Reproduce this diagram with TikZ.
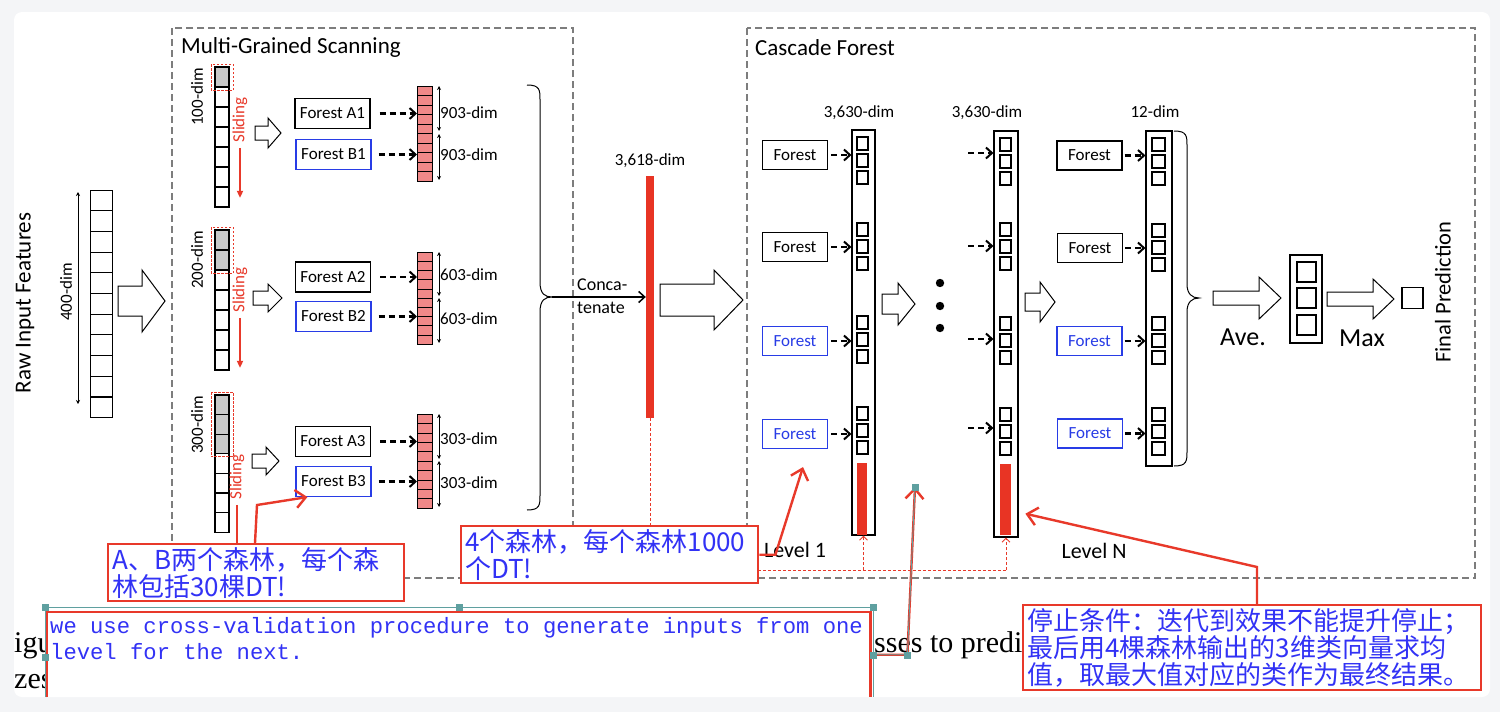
\documentclass[tikz,border=0pt]{standalone}
\usepackage{fontspec}
\setmainfont{Carlito}
\newfontfamily\cjkfont{Noto Sans CJK SC}
\newfontfamily\annmono{Liberation Mono}
\newfontfamily\paperserif{Liberation Serif}
\usetikzlibrary{arrows.meta}
\definecolor{pagebg}{RGB}{244,245,247}
\definecolor{boxgray}{RGB}{125,125,125}
\definecolor{annred}{RGB}{232,57,42}
\definecolor{annblue}{RGB}{50,50,245}
\definecolor{barred}{RGB}{232,52,36}
\definecolor{cellred}{RGB}{240,136,136}
\definecolor{cellgray}{RGB}{200,200,200}
\definecolor{fbblue}{RGB}{40,60,230}
\definecolor{selteal}{RGB}{95,160,160}
\newcommand{\fatArrow}[6]{%
  \draw[line width=1pt, fill=white, line join=miter] (#1,#4-#5) -- (#2,#4-#5) -- (#2,#4-#6) -- (#3,#4) -- (#2,#4+#6) -- (#2,#4+#5) -- (#1,#4+#5) -- cycle;}

\begin{document}
\begin{tikzpicture}[x=1pt,y=-1pt,
  lbl/.style={inner sep=0pt, font=\fontsize{17}{20}\selectfont},
  ttl/.style={inner sep=0pt, font=\fontsize{23}{26}\selectfont},
  fbox/.style={draw, line width=1.1pt, minimum width=75pt, minimum height=30pt, inner sep=0pt, font=\fontsize{17}{20}\selectfont},
  fboxb/.style={fbox, draw=fbblue},
  cfbox/.style={fbox, minimum width=65pt, minimum height=29pt},
  cfboxb/.style={cfbox, draw=fbblue, text=fbblue},
  colbox/.style={draw, line width=1.1pt, inner sep=0pt},
  dasharr/.style={line width=2.1pt, dash pattern=on 6pt off 4pt, -{Straight Barb[length=6pt,width=11pt,line width=2pt]}},
  dimarr/.style={line width=0.8pt, {Stealth[length=4pt,width=4pt]}-{Stealth[length=4pt,width=4pt]}},
  slide/.style={annred, line width=1.6pt, -{Triangle[length=7pt,width=6pt]}},
  feed/.style={annred, line width=0.9pt, dash pattern=on 3pt off 2pt},
  calarr/.style={annred, line width=2.4pt, -{Straight Barb[length=10pt,width=18pt]}},
  annbox/.style={draw=annred, line width=2.4pt, fill=white, text=annblue, inner sep=3pt, anchor=north west, align=left, font=\cjkfont\fontsize{26}{27}\selectfont},
]
\useasboundingbox (0,0) rectangle (1500,712);
\fill[pagebg] (0,0) rectangle (1500,712);
\fill[white, rounded corners=8pt] (14,12) rectangle (1490,697);

% dashed frames
\draw[boxgray, line width=1.8pt, dash pattern=on 7pt off 4pt] (172,28) rectangle (573,578);
\draw[boxgray, line width=1.8pt, dash pattern=on 7pt off 4pt] (747,28) rectangle (1475,578);
\node[ttl, anchor=base west] (mgstitle) at (181,53) {Multi-Grained Scanning};
\node[ttl, anchor=base west] (cftitle) at (755,55) {Cascade Forest};

% raw input
\node[ttl, rotate=90] (rawtitle) at (25,303) {Raw Input Features};
\node[colbox, minimum width=22pt, minimum height=227pt, anchor=north west] (rawcol) at (90,190) {};
\foreach \i in {1,...,10} \draw[line width=1.1pt] (90,190+\i*20.7) -- ++(22,0);
\draw[dimarr] (rawcol.north west) ++(-12,2) -- ++(0,212);
\node[lbl, rotate=90] (rawdim) at (66,292) {400-dim};
\fatArrow{118}{142}{165}{301}{15}{31}

% scanning windows
\foreach \cy/\ch/\cg in {67/20/1, 230/20/2, 395/19.6/3} {
  \foreach \i in {1,...,\cg} \fill[cellgray] (215,\cy+\i*\ch-\ch) rectangle ++(14,\ch);
  \foreach \i in {0,...,6} \draw[line width=1.1pt] (215,\cy+\i*\ch) rectangle ++(14,\ch);
  \draw[annred, line width=1pt, dash pattern=on 2.5pt off 1.5pt] (211,\cy-3) rectangle (233,\cy+\cg*\ch+3);
}
\node[lbl, rotate=90] (d100) at (197,97) {100-dim};
\node[lbl, rotate=90] (d200) at (197,260) {200-dim};
\node[lbl, rotate=90] (d300) at (197,425) {300-dim};
\node[lbl, rotate=90, text=annred] (sl1) at (240,120) {Sliding};
\node[lbl, rotate=90, text=annred] (sl2) at (240,290) {Sliding};
\node[lbl, rotate=90, text=annred] (sl3) at (237,477) {Sliding};
\draw[slide, shorten <=5pt] (sl1.west) -- ++(0,55);
\draw[slide, shorten <=5pt] (sl2.west) -- ++(0,55);
\draw[slide, shorten <=5pt] (sl3.west) -- ++(0,55);
\fatArrow{255}{268}{281}{133}{7}{15}
\fatArrow{253}{268}{282}{298}{7}{14}
\fatArrow{252}{266}{279}{461}{7}{14}

% forests A/B
\node[fbox] (fa1) at (332.5,113.5) {Forest A1};
\node[fboxb] (fb1) at (333.5,154.5) {Forest B1};
\node[fbox] (fa2) at (333,277) {Forest A2};
\node[fboxb] (fb2) at (333.5,316.5) {Forest B2};
\node[fbox] (fa3) at (333,441.5) {Forest A3};
\node[fboxb] (fb3) at (333.5,481.5) {Forest B3};

% transformed features
\foreach \n/\ty/\by in {rc1/86/181, rc2/252/344, rc3/414/508} {
  \node[colbox, fill=cellred, minimum width=15pt, minimum height=\by-\ty, anchor=north west] (\n) at (417,\ty) {};
  \foreach \i in {1,...,9} \draw[line width=0.6pt] (417,{\ty+\i*(\by-\ty)/10}) -- (432,{\ty+\i*(\by-\ty)/10});
}
\draw[dasharr, shorten <=9pt] (fa1.east) -- (fa1.east -| rc1.west);
\draw[dasharr, shorten <=7pt] (fb1.east) -- (fb1.east -| rc1.west);
\draw[dasharr, shorten <=9pt] (fa2.east) -- (fa2.east -| rc2.west);
\draw[dasharr, shorten <=7pt] (fb2.east) -- (fb2.east -| rc2.west);
\draw[dasharr, shorten <=9pt] (fa3.east) -- (fa3.east -| rc3.west);
\draw[dasharr, shorten <=7pt] (fb3.east) -- (fb3.east -| rc3.west);
\draw[dimarr] (rc1.north east) ++(6,0) -- ++(0,45);
\draw[dimarr] (rc1.north east) ++(6,48) -- ++(0,46);
\draw[dimarr] (rc2.north east) ++(6,0) -- ++(0,44);
\draw[dimarr] (rc2.north east) ++(6,46) -- ++(0,45);
\draw[dimarr] (rc3.north east) ++(6,0) -- ++(0,45);
\draw[dimarr] (rc3.north east) ++(6,47) -- ++(0,46);
\node[lbl, anchor=west] (l903a) at (440,113) {903-dim};
\node[lbl, anchor=west] (l903b) at (440,155) {903-dim};
\node[lbl, anchor=west] (l603a) at (440,275) {603-dim};
\node[lbl, anchor=west] (l603b) at (440,319) {603-dim};
\node[lbl, anchor=west] (l303a) at (440,439) {303-dim};
\node[lbl, anchor=west] (l303b) at (440,483) {303-dim};

% concatenation
\draw[line width=1pt] (527,85) .. controls (540,85) and (540,90) .. (540,100) -- (540,282) .. controls (540,294) and (545,297) .. (552,297) .. controls (545,297) and (540,300) .. (540,312) -- (540,495) .. controls (540,505) and (540,510) .. (527,510);
\coordinate (bracetip) at (552,297);
\node[fill=barred, minimum width=8pt, minimum height=242pt, inner sep=0pt] (cbar) at (650,297) {};
\node[lbl] (d3618) at (650,161) {3,618-dim};
\draw[line width=1.5pt, -{Straight Barb[length=6pt,width=11pt]}] (bracetip) -- (bracetip -| cbar.west);
\node[lbl, font=\fontsize{18}{20}\selectfont, anchor=west] (conca) at (577,285) {Conca-};
\node[lbl, font=\fontsize{18}{20}\selectfont, anchor=west] (tenate) at (577,308) {tenate};
\fatArrow{660}{714}{743}{300}{16}{30}

% cascade forest: level 1
\node[cfbox] (l1f1) at (795,155) {Forest};
\node[cfbox] (l1f2) at (795,247) {Forest};
\node[cfboxb] (l1f3) at (795,341) {Forest};
\node[cfboxb] (l1f4) at (795,434) {Forest};
\node[colbox, minimum width=23pt, minimum height=405pt] (lv1) at (863.5,332.5) {};
\foreach \sy in {137,223,316,407} \foreach \j in {0,1,2} \draw[line width=1.1pt] (857,\sy+\j*17) rectangle ++(11,13);
\node[fill=barred, minimum width=10pt, minimum height=72pt, inner sep=0pt, anchor=north west] (lv1bar) at (857,463) {};
\foreach \f in {l1f1,l1f2,l1f3,l1f4} \draw[dasharr, shorten <=3pt] (\f.east) -- (\f.east -| lv1.west);
\node[lbl] (d3630a) at (859,113) {3,630-dim};
\node[lbl, font=\fontsize{22}{24}\selectfont] (lev1) at (795,550) {Level 1};
\fatArrow{882}{898}{915}{304}{10}{21}
\foreach \dy in {283,306,328} \fill (940,\dy) circle (4.2);

% level N
\node[colbox, minimum width=24pt, minimum height=406pt] (lvn) at (1006,334) {};
\foreach \sy in {138,223,317,408} \foreach \j in {0,1,2} \draw[line width=1.1pt] (1000,\sy+\j*17) rectangle ++(11,13);
\node[fill=barred, minimum width=11pt, minimum height=71pt, inner sep=0pt, anchor=north west] (lvnbar) at (1000,464) {};
\foreach \iy [count=\k] in {153,246,339,428} {
  \coordinate (lnin\k) at (968,\iy);
  \draw[dasharr] (lnin\k) -- (lnin\k -| lvn.west);
}
\node[lbl] (d3630b) at (987,113) {3,630-dim};
\node[lbl, font=\fontsize{22}{24}\selectfont] (levn) at (1094,551) {Level N};
\fatArrow{1025}{1040}{1055}{302}{9}{20}

% final level
\node[cfbox] (ff1) at (1089.5,155.5) {Forest};
\node[cfbox] (ff2) at (1090,248) {Forest};
\node[cfboxb] (ff3) at (1089.5,341) {Forest};
\node[cfboxb] (ff4) at (1090,433.5) {Forest};
\node[colbox, minimum width=26pt, minimum height=335pt] (lvf) at (1159,298.5) {};
\foreach \sy in {138,224,317,408} \foreach \j in {0,1,2} \draw[line width=1.1pt] (1152,\sy+\j*17) rectangle ++(13,13);
\foreach \f in {ff1,ff2,ff3,ff4} \draw[dasharr, shorten <=2pt] (\f.east) -- (\f.east -| lvf.west);
\node[lbl] (d12) at (1155,112) {12-dim};
\draw[line width=1pt] (1174,131) .. controls (1187,131) and (1187,136) .. (1187,146) -- (1187,284) .. controls (1187,294) and (1192,298) .. (1199,298) .. controls (1192,298) and (1187,302) .. (1187,312) -- (1187,451) .. controls (1187,461) and (1187,466) .. (1174,466);
\fatArrow{1213}{1259}{1281}{298}{7}{21}
\node[inner sep=0pt, font=\fontsize{26}{28}\selectfont] (ave) at (1243,337) {Ave.};
\node[colbox, minimum width=32pt, minimum height=88pt] (res) at (1306,299) {};
\foreach \sy in {262,288,315} \draw[line width=1.1pt] (1297,\sy) rectangle ++(19,20);
\fatArrow{1327}{1373}{1394}{299}{7}{20}
\node[inner sep=0pt, font=\fontsize{26}{28}\selectfont] (maxlbl) at (1362,338) {Max};
\node[colbox, minimum size=21pt] (fin) at (1412.5,298) {};
\node[inner sep=0pt, rotate=90, font=\fontsize{22.5}{25}\selectfont] (finlbl) at (1443,292) {Final Prediction};

% feeding the concatenated vector to every level
\coordinate (feedy) at (0,570);
\draw[feed] (cbar.south) |- (lvn.south |- feedy);
\draw[feed, -{Straight Barb[length=4pt,width=8pt]}] (lv1.south |- feedy) -- (lv1.south);
\draw[feed, -{Straight Barb[length=4pt,width=8pt]}] (lvn.south |- feedy) -- (lvn.south);

% text of the page behind
\node[anchor=base west, inner sep=0pt, font=\paperserif\fontsize{30}{32}\selectfont] (bgigu) at (14,652) {igu};
\node[anchor=base west, inner sep=0pt, font=\paperserif\fontsize{30}{32}\selectfont] (bgzes) at (14,688) {zes};
\node[anchor=base west, inner sep=0pt, font=\paperserif\fontsize{30}{32}\selectfont] (bgsses) at (874,652) {sses to predi};

% notes
\node[annbox, minimum width=296pt, minimum height=57pt, text width=288pt] (ann1) at (107,543) {A、B两个森林，每个森\\林包括30棵DT!};
\node[annbox, minimum width=297pt, minimum height=57pt, text width=289pt] (ann2) at (460,525) {4个森林，每个森林1000\\个DT!};
\node[annbox, minimum width=458pt, minimum height=84pt, text width=450pt] (ann4) at (1022,604) {停止条件：迭代到效果不能提升停止；\\最后用4棵森林输出的3维类向量求均\\值，取最大值对应的类作为最终结果。};
\node[fill=white, minimum width=823pt, minimum height=85pt, inner sep=0pt, anchor=north west] (ann3) at (47,612) {};
\draw[annred, line width=2.4pt] (ann3.south west) -- (ann3.north west) -- (ann3.north east) -- (ann3.south east);
\draw[selteal, line width=1pt] (45,697) -- (45,607) -- (873,607) -- (873,697);
\node[anchor=north west, inner sep=0pt, text=annblue, align=left, font=\annmono\fontsize{22.2}{26}\selectfont] (ann3txt) at (50,617) {we use cross-validation procedure to generate inputs from one\\level for the next.};

% note pointers
\draw[calarr] ([xshift=148pt]ann1.north west) -- ++(2,-38) -- ([xshift=12pt]fb3.south west);
\draw[calarr] (ann2.east) -- ++(16,0) -- ([xshift=8pt,yshift=-18pt]l1f4.south);
\draw[calarr] ([xshift=235pt]ann4.north west) -- ++(0,-37) -- ([xshift=14pt,yshift=-14pt]lvnbar.east);
\coordinate (gapmark) at (915,487);
\coordinate (selr) at ([xshift=3pt]ann3.east);
\draw[calarr] (selr) -- ++(34,0) -- (gapmark);
\draw[selteal, line width=0.8pt] (selr) -- ++(34,0) -- (gapmark);
\foreach \hx/\hy in {45/607, 459/607, 873/607, 45/657, 873/655, 907/655, 915/487} \fill[selteal] (\hx-3.5,\hy-3.5) rectangle ++(7,7);
\end{tikzpicture}
\end{document}
